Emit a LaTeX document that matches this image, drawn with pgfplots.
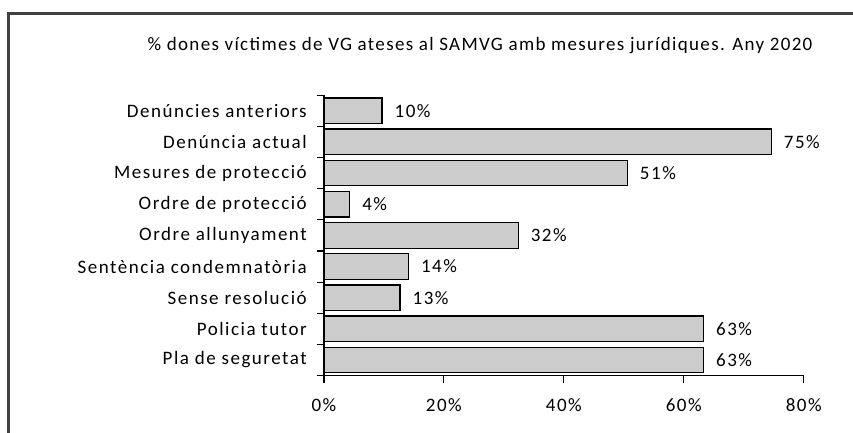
\documentclass[border=0pt]{standalone}
\usepackage{fontspec}
\setmainfont{Carlito}[LetterSpace=8]
\newfontfamily\titlefont{Carlito}[LetterSpace=7]
\usepackage{pgfplots}
\pgfplotsset{compat=1.18}
\definecolor{barfill}{HTML}{CCCCCC}
\definecolor{framecol}{HTML}{404040}
\begin{document}
\begin{tikzpicture}[font=\fontsize{19pt}{22pt}\selectfont]
\useasboundingbox (0,0) rectangle (853pt,432pt);
\draw[framecol, line width=2.5pt] (8.7pt,-2pt) -- (8.7pt,418.7pt) -- (856pt,418.7pt);
\node[anchor=base, inner sep=0pt, text=black, font=\titlefont\fontsize{19pt}{22pt}\selectfont] at (480pt,381pt) {\% dones víctimes de VG ateses al SAMVG amb mesures jurídiques. Any 2020};
\begin{axis}[
  at={(323.9pt,56.4pt)}, anchor=south west,
  scale only axis, width=479.8pt, height=280.5pt,
  xbar, bar width=0.82,
  xmin=0, xmax=80,
  ymin=0, ymax=9, y dir=reverse,
  axis x line*=bottom, axis y line*=left,
  axis line style={line width=1.2pt, black},
  every tick/.style={line width=1.2pt, black},
  tick align=outside,
  major tick length=7pt,
  xtick={0,20,40,60,80},
  xticklabel={\pgfmathprintnumber{\tick}\%},
  /pgf/number format/assume math mode=true,
  xticklabel style={anchor=north, inner sep=0pt, yshift=-16pt, text=black},
  ytick={0,...,9},
  y tick label as interval,
  yticklabels={Denúncies anteriors,Denúncia actual,Mesures de protecció,Ordre de protecció,Ordre allunyament,Sentència condemnatòria,Sense resolució,Policia tutor,Pla de seguretat},
  yticklabel style={anchor=east, inner sep=0pt, xshift=-10pt, text=black},
  point meta=x,
  nodes near coords={\pgfmathprintnumber[fixed,precision=0]{\pgfplotspointmeta}\%},
  every node near coord/.append style={anchor=west, inner sep=0pt, xshift=12pt, text=black},
  clip=false,
]
\addplot[fill=barfill, draw=black, line width=1.2pt] coordinates {
  (9.7,0.5) (74.6,1.5) (50.6,2.5) (4.3,3.5) (32.4,4.5) (14.1,5.5) (12.7,6.5) (63.3,7.5) (63.3,8.5)
};
\end{axis}
\end{tikzpicture}
\end{document}
